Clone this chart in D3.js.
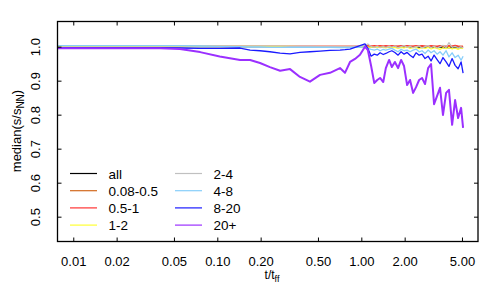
<!DOCTYPE html>
<html>
<head>
<meta charset="utf-8">
<script src="https://cdn.jsdelivr.net/npm/d3@7"></script>
<style>
  body { margin: 0; background: #fff; }
  text { font-family: "Liberation Sans", Arial, sans-serif; }
</style>
</head>
<body>
<script>
'use strict';

// time grid (t/t_ff)
const times = [0.0078, 0.0153, 0.029, 0.04, 0.055, 0.076, 0.104, 0.144, 0.169, 0.198,
  0.232, 0.273, 0.32, 0.375, 0.44, 0.517, 0.606, 0.711, 0.77, 0.835,
  0.904, 0.979, 1.06, 1.11, 1.17, 1.23, 1.29, 1.35, 1.42, 1.48,
  1.56, 1.63, 1.71, 1.80, 1.89, 1.98, 2.08, 2.18, 2.29, 2.40,
  2.52, 2.64, 2.77, 2.91, 3.05, 3.20, 3.36, 3.52, 3.69, 3.88,
  4.06, 4.27, 4.48, 4.70, 4.93, 5.09];

// median(s/s_NN) for each mass bin
const allBins = [1.000, 1.000, 1.000, 1.000, 1.000, 1.000, 1.000, 1.000, 1.000, 1.000,
  1.000, 1.000, 1.000, 1.000, 1.000, 1.000, 1.000, 1.000, 1.000, 1.000,
  1.000, 1.000, 1.000, 1.000, 0.999, 1.000, 0.999, 1.000, 0.999, 1.000,
  0.999, 1.000, 0.999, 0.999, 1.000, 0.999, 0.999, 1.000, 0.999, 0.998,
  0.999, 0.998, 0.999, 0.998, 0.999, 0.998, 0.998, 0.999, 0.997, 0.998,
  0.997, 0.998, 0.997, 0.997, 0.998, 0.996];
const bin008 = [1.001, 1.001, 1.001, 1.001, 1.001, 1.001, 1.001, 1.001, 1.001, 1.001,
  1.001, 1.001, 1.001, 1.001, 1.001, 1.001, 1.001, 1.001, 1.001, 1.001,
  1.001, 1.001, 1.001, 1.001, 1.001, 1.001, 1.001, 1.001, 1.001, 1.001,
  1.001, 1.001, 1.001, 1.001, 1.001, 1.001, 1.001, 1.001, 1.001, 1.001,
  1.001, 1.001, 1.001, 1.001, 1.001, 1.001, 1.001, 1.001, 1.001, 1.001,
  1.001, 1.001, 1.001, 1.001, 1.001, 1.001];
const bin05 = [1.001, 1.001, 1.001, 1.001, 1.001, 1.001, 1.001, 1.001, 1.001, 1.001,
  1.001, 1.001, 1.001, 1.001, 1.001, 1.001, 1.001, 1.001, 1.001, 1.001,
  1.001, 1.001, 1.002, 1.003, 1.002, 1.003, 1.002, 1.003, 1.002, 1.003,
  1.002, 1.003, 1.002, 1.002, 1.003, 1.002, 1.003, 1.002, 1.002, 1.003,
  1.002, 1.003, 1.002, 1.001, 1.003, 1.002, 1.001, 1.003, 1.002, 1.001,
  1.003, 1.002, 1.004, 1.002, 1.001, 1.001];
const bin1 = [1.001, 1.001, 1.001, 1.001, 1.001, 1.001, 1.001, 1.001, 1.001, 1.001,
  1.001, 1.001, 1.001, 1.000, 1.000, 1.000, 0.999, 0.999, 0.999, 0.999,
  0.999, 1.000, 1.000, 0.999, 0.998, 0.999, 0.997, 0.999, 0.998, 0.996,
  0.999, 0.997, 0.998, 0.995, 0.998, 0.996, 0.999, 0.995, 0.997, 0.998,
  0.994, 0.997, 0.995, 0.998, 0.993, 0.997, 0.995, 0.992, 0.997, 0.994,
  0.998, 0.993, 0.996, 0.992, 0.997, 0.994];
const bin2 = [1.002, 1.002, 1.002, 1.002, 1.002, 1.002, 1.002, 1.002, 1.002, 1.002,
  1.002, 1.002, 1.001, 1.001, 1.001, 1.000, 1.000, 1.000, 1.000, 1.000,
  1.001, 1.002, 1.004, 1.008, 1.000, 0.998, 1.001, 0.997, 1.000, 0.998,
  1.001, 0.999, 1.002, 0.997, 1.000, 1.003, 0.998, 1.001, 0.997, 1.000,
  1.002, 0.996, 1.000, 1.003, 0.997, 1.001, 0.996, 1.000, 1.004, 0.997,
  1.012, 0.998, 1.001, 0.996, 1.000, 0.997];
const bin4 = [1.003, 1.003, 1.003, 1.003, 1.003, 1.002, 1.001, 1.000, 0.999, 0.999,
  0.998, 0.998, 0.998, 0.998, 0.998, 0.998, 0.998, 0.997, 0.997, 0.997,
  0.998, 0.998, 1.000, 0.995, 0.992, 0.990, 0.993, 0.988, 0.992, 0.990,
  0.993, 0.995, 0.990, 0.985, 0.992, 0.988, 0.990, 0.985, 0.990, 0.993,
  0.985, 0.988, 0.980, 0.990, 0.982, 0.988, 0.978, 0.985, 0.975, 0.988,
  0.970, 0.982, 0.968, 0.975, 0.960, 0.972];
const bin8 = [0.997, 0.997, 0.997, 0.997, 0.996, 0.995, 0.995, 0.996, 0.990, 0.988,
  0.985, 0.981, 0.979, 0.983, 0.985, 0.987, 0.989, 0.990, 0.991, 0.993,
  0.998, 1.003, 1.008, 0.995, 0.972, 0.978, 0.975, 0.982, 0.977, 0.980,
  0.985, 0.988, 0.983, 0.975, 0.985, 0.978, 0.983, 0.975, 0.968, 0.982,
  0.975, 0.978, 0.965, 0.972, 0.958, 0.975, 0.962, 0.950, 0.968, 0.955,
  0.942, 0.965, 0.945, 0.935, 0.955, 0.922];
const bin20 = [0.995, 0.995, 0.995, 0.995, 0.993, 0.984, 0.971, 0.961, 0.961, 0.952,
  0.940, 0.929, 0.934, 0.911, 0.897, 0.917, 0.923, 0.937, 0.923, 0.955,
  0.964, 0.976, 1.000, 0.990, 0.943, 0.893, 0.902, 0.908, 0.896, 0.937,
  0.961, 0.940, 0.955, 0.937, 0.961, 0.943, 0.887, 0.902, 0.864, 0.881,
  0.902, 0.908, 0.890, 0.937, 0.949, 0.831, 0.855, 0.879, 0.799, 0.864,
  0.873, 0.770, 0.843, 0.790, 0.820, 0.761];

const seriesNames = ["all", "0.08-0.5", "0.5-1", "1-2", "2-4", "4-8", "8-20", "20+"];
const seriesValues = [allBins, bin008, bin05, bin1, bin2, bin4, bin8, bin20];
const seriesColors = ["#000000", "#d2691e", "#ff3333", "#ffff33", "#c0c0c0", "#87cefa", "#1a1aff", "#9b30ff"];
const seriesWidths = [1.2, 1.2, 1.2, 1.2, 1.2, 1.3, 1.3, 2];

const xTicks = [0.01, 0.02, 0.05, 0.1, 0.2, 0.5, 1, 2, 5];
const yTicks = [0.5, 0.6, 0.7, 0.8, 0.9, 1.0];

const width = 500, height = 300;
const margin = {left: 57.5, right: 22, top: 21.5, bottom: 58.5};

const svg = d3.select('body').append('svg')
  .attr('width', width)
  .attr('height', height);

const x = d3.scaleLog()
  .domain([0.00777, 6.46])
  .range([margin.left, width - margin.right]);

const y = d3.scaleLinear()
  .domain([0.427, 1.074])
  .range([height - margin.bottom, margin.top]);

svg.append('clipPath').attr('id', 'clip')
  .append('rect')
  .attr('x', margin.left).attr('y', margin.top)
  .attr('width', x.range()[1] - margin.left)
  .attr('height', y.range()[0] - margin.top);

// lines
const line = d3.line()
  .x((d, i) => x(times[i]))
  .y((d) => y(d));

const plot = svg.append('g').attr('clip-path', 'url(#clip)');
seriesValues.forEach((vals, k) => {
  plot.append('path')
    .datum(vals)
    .attr('d', line)
    .attr('fill', 'none')
    .attr('stroke', seriesColors[k])
    .attr('stroke-width', seriesWidths[k])
    .attr('stroke-linejoin', 'round');
});

// axes with inward ticks on all four sides
const fmt2 = d3.format('.2f');
const fmt1 = d3.format('.1f');
const tickLen = 4;

svg.append('g')
  .attr('transform', `translate(0,${y.range()[0]})`)
  .call(d3.axisBottom(x).tickValues(xTicks).tickFormat(fmt2).tickSizeInner(-tickLen).tickSizeOuter(0).tickPadding(15))
  .call((g) => g.select('.domain').remove())
  .call((g) => g.selectAll('text').attr('font-size', 13).attr('fill', '#000'));

svg.append('g')
  .attr('transform', `translate(0,${margin.top})`)
  .call(d3.axisTop(x).tickValues(xTicks).tickFormat('').tickSizeInner(-tickLen).tickSizeOuter(0))
  .call((g) => g.select('.domain').remove());

const yAxis = svg.append('g')
  .attr('transform', `translate(${margin.left},0)`)
  .call(d3.axisLeft(y).tickValues(yTicks).tickFormat(fmt1).tickSizeInner(-tickLen).tickSizeOuter(0))
  .call((g) => g.select('.domain').remove());
yAxis.selectAll('text')
  .attr('font-size', 13)
  .attr('fill', '#000')
  .attr('x', null).attr('dy', null)
  .attr('text-anchor', 'middle')
  .attr('transform', 'translate(-17.5,0) rotate(-90)');

svg.append('g')
  .attr('transform', `translate(${x.range()[1]},0)`)
  .call(d3.axisRight(y).tickValues(yTicks).tickFormat('').tickSizeInner(-tickLen).tickSizeOuter(0))
  .call((g) => g.select('.domain').remove());

// frame
svg.append('rect')
  .attr('x', margin.left).attr('y', margin.top)
  .attr('width', x.range()[1] - margin.left)
  .attr('height', y.range()[0] - margin.top)
  .attr('fill', 'none')
  .attr('stroke', '#000')
  .attr('stroke-width', 1.3);

// axis titles
const xLab = svg.append('text')
  .attr('x', 272).attr('y', 279)
  .attr('text-anchor', 'middle')
  .attr('font-size', 12);
xLab.append('tspan').text('t/t');
xLab.append('tspan').attr('dy', 3).attr('font-size', 9).text('ff');

const yLab = svg.append('text')
  .attr('transform', 'translate(21,131) rotate(-90)')
  .attr('text-anchor', 'middle')
  .attr('font-size', 13);
yLab.append('tspan').text('median(s/s');
yLab.append('tspan').attr('dy', 3).attr('font-size', 10).text('NN');
yLab.append('tspan').attr('dy', -3).text(')');

// legend, two columns of four
const legend = svg.append('g');
seriesNames.forEach((name, k) => {
  const col = Math.floor(k / 4), row = k % 4;
  const lx = 70 + col * 105, ly = 173.5 + row * 17.2;
  legend.append('line')
    .attr('x1', lx).attr('x2', lx + 27)
    .attr('y1', ly).attr('y2', ly)
    .attr('stroke', seriesColors[k])
    .attr('stroke-width', 1.2);
  legend.append('text')
    .attr('x', lx + 38.5).attr('y', ly + 5)
    .attr('font-size', 13.5)
    .text(name);
});
</script>
</body>
</html>
